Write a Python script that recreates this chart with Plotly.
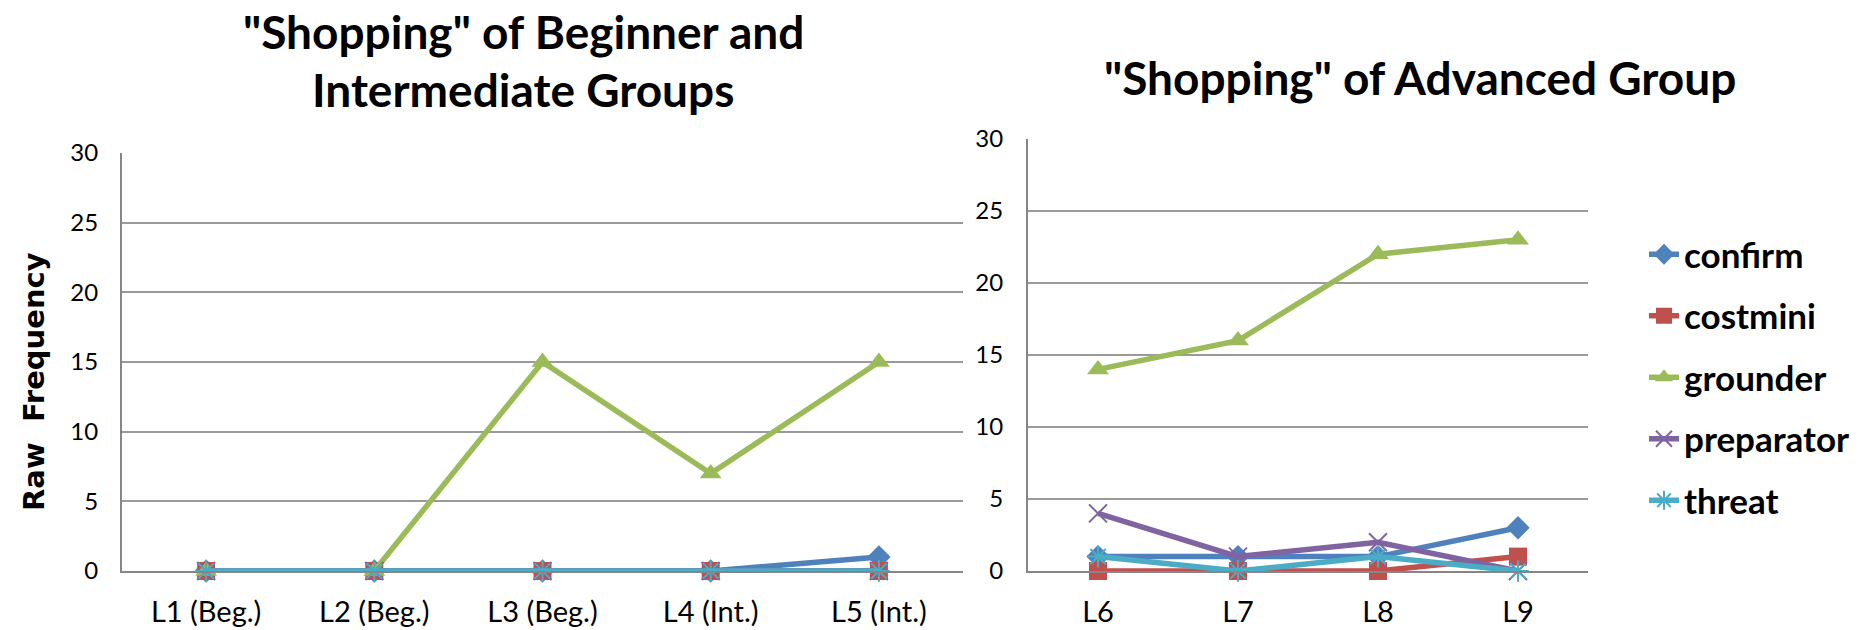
import plotly.graph_objects as go

# Lesson levels for each group
levels_beg_int = ["L1 (Beg.)", "L2 (Beg.)", "L3 (Beg.)", "L4 (Int.)", "L5 (Int.)"]
levels_adv = ["L6", "L7", "L8", "L9"]

# Raw frequency of each strategy, beginner + intermediate lessons
confirm_bi = [0, 0, 0, 0, 1]
costmini_bi = [0, 0, 0, 0, 0]
grounder_bi = [0, 0, 15, 7, 15]
preparator_bi = [0, 0, 0, 0, 0]
threat_bi = [0, 0, 0, 0, 0]

# Raw frequency of each strategy, advanced lessons
confirm_adv = [1, 1, 1, 3]
costmini_adv = [0, 0, 0, 1]
grounder_adv = [14, 16, 22, 23]
preparator_adv = [4, 1, 2, 0]
threat_adv = [1, 0, 1, 0]

y_ticks = [0, 5, 10, 15, 20, 25, 30]

series = [
    ("confirm", confirm_bi, confirm_adv, "#4F81BD", "diamond", 18, 0),
    ("costmini", costmini_bi, costmini_adv, "#C0504D", "square", 18, 0),
    ("grounder", grounder_bi, grounder_adv, "#9BBB59", "triangle-up", 19, 0),
    ("preparator", preparator_bi, preparator_adv, "#8064A2", "x-thin-open", 18, 2),
    ("threat", threat_bi, threat_adv, "#4BACC6", "asterisk-open", 18, 2),
]

W, H = 1872, 630
TXT = "Lato"

fig = go.Figure()
for name, v_bi, v_adv, color, symbol, msize, mline in series:
    marker = dict(symbol=symbol, size=msize, color=color,
                  line=dict(color=color, width=mline))
    fig.add_trace(go.Scatter(
        x=levels_beg_int, y=v_bi, name=name, mode="lines+markers",
        line=dict(color=color, width=5.5), marker=marker,
        xaxis="x", yaxis="y", showlegend=False, cliponaxis=False,
        legendgroup=name,
    ))
for name, v_bi, v_adv, color, symbol, msize, mline in series:
    marker = dict(symbol=symbol, size=msize, color=color,
                  line=dict(color=color, width=mline))
    fig.add_trace(go.Scatter(
        x=levels_adv, y=v_adv, name=name, mode="lines+markers",
        line=dict(color=color, width=5.5), marker=marker,
        xaxis="x2", yaxis="y2", showlegend=True, cliponaxis=False,
        legendgroup=name,
    ))

axis_line = "#868686"
grid = "#9a9a9a"

def yaxis(domain, anchor, standoff):
    return dict(domain=domain, anchor=anchor, range=[0, 30], tickvals=y_ticks,
                showgrid=True, gridcolor=grid, gridwidth=2,
                showline=True, linecolor=axis_line, linewidth=2,
                zeroline=False, ticks="", ticklabelstandoff=standoff,
                automargin=False,
                tickfont=dict(family=TXT, size=24, color="#000"))

def xaxis(domain, anchor, cats):
    return dict(domain=domain, anchor=anchor, type="category",
                range=[-0.5, len(cats) - 0.5],
                showgrid=False, showline=True, linecolor=axis_line, linewidth=2,
                zeroline=False, ticks="", ticklabelstandoff=14,
                automargin=False,
                tickfont=dict(family=TXT, size=29, color="#000"))

fig.update_layout(
    width=W, height=H,
    margin=dict(l=0, r=0, t=0, b=0, autoexpand=False),
    paper_bgcolor="white", plot_bgcolor="white",
    xaxis=xaxis([122 / W, 963 / W], "y", levels_beg_int),
    yaxis=yaxis([1 - 571 / H, 1 - 153 / H], "x", 17),
    xaxis2=xaxis([1028 / W, 1588 / W], "y2", levels_adv),
    yaxis2=yaxis([1 - 571 / H, 1 - 139 / H], "x2", 18),
    legend=dict(x=1644 / W, y=1 - 225 / H, xanchor="left", yanchor="top",
                font=dict(family=TXT, size=35, color="#000", weight="bold"),
                tracegroupgap=13, itemwidth=30, bgcolor="rgba(0,0,0,0)"),
    showlegend=True,
)

title_font = dict(family=TXT, size=46, color="#000", weight="bold")
fig.add_annotation(text="\"Shopping\" of Beginner and", x=523 / W, y=1 - 31 / H,
                   xref="paper", yref="paper", showarrow=False,
                   xanchor="center", yanchor="middle", font=title_font)
fig.add_annotation(text="Intermediate Groups", x=523 / W, y=1 - 90 / H,
                   xref="paper", yref="paper", showarrow=False,
                   xanchor="center", yanchor="middle", font=title_font)
fig.add_annotation(text="\"Shopping\" of Advanced Group", x=1420 / W, y=1 - 77 / H,
                   xref="paper", yref="paper", showarrow=False,
                   xanchor="center", yanchor="middle", font=title_font)
fig.add_annotation(text="Raw\u00a0 Frequency", x=34 / W, y=1 - 382 / H,
                   xref="paper", yref="paper", showarrow=False, textangle=-90,
                   xanchor="center", yanchor="middle",
                   font=dict(family="DejaVu Sans", size=29, color="#000", weight="bold"))

fig.write_html("out.html")
